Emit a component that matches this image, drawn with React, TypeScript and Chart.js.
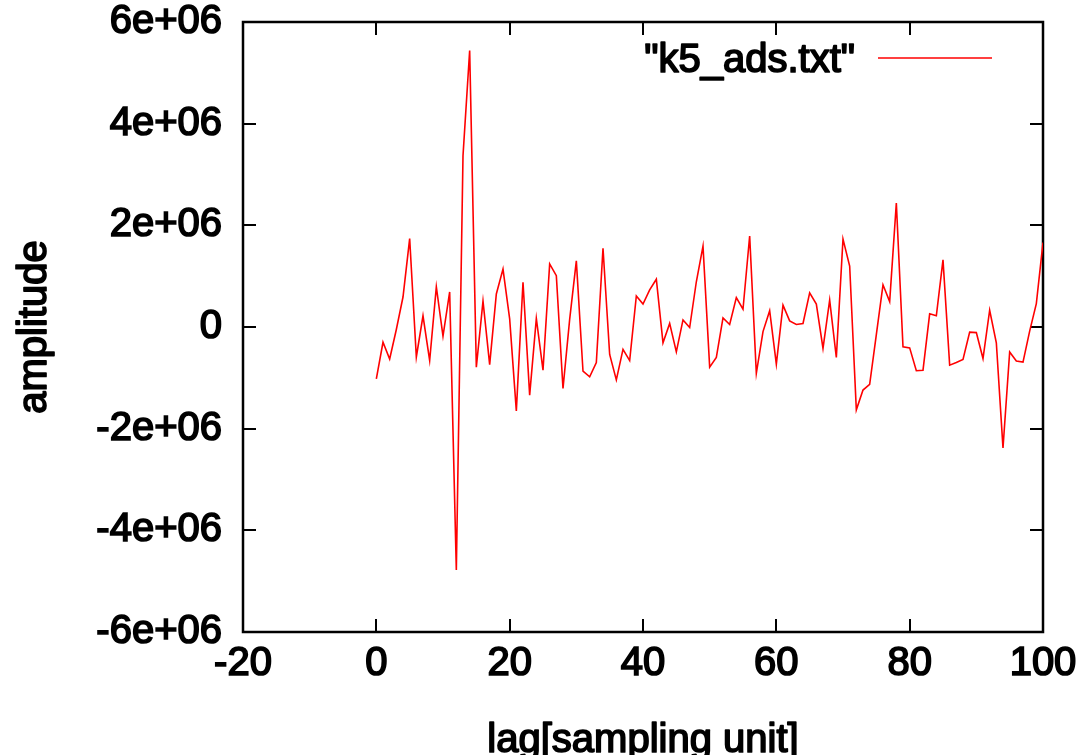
import React, { useEffect, useRef } from "react";
import { Chart, registerables } from "chart.js";

Chart.register(...registerables);

const lags = [
  0, 1, 2, 3, 4, 5, 6, 7, 8, 9, 10, 11, 12, 13, 14, 15, 16, 17, 18, 19, 20,
  21, 22, 23, 24, 25, 26, 27, 28, 29, 30, 31, 32, 33, 34, 35, 36, 37, 38, 39, 40,
  41, 42, 43, 44, 45, 46, 47, 48, 49, 50, 51, 52, 53, 54, 55, 56, 57, 58, 59, 60,
  61, 62, 63, 64, 65, 66, 67, 68, 69, 70, 71, 72, 73, 74, 75, 76, 77, 78, 79, 80,
  81, 82, 83, 84, 85, 86, 87, 88, 89, 90, 91, 92, 93, 94, 95, 96, 97, 98, 99, 100,
];

const amplitude = [
  -1.02e6, -0.3e6, -0.63e6, -0.05e6, 0.59e6, 1.74e6, -0.59e6, 0.22e6, -0.66e6, 0.79e6,
  -0.18e6, 0.69e6, -4.78e6, 3.37e6, 5.44e6, -0.79e6, 0.51e6, -0.74e6, 0.65e6, 1.14e6,
  0.16e6, -1.65e6, 0.88e6, -1.34e6, 0.17e6, -0.85e6, 1.24e6, 1.01e6, -1.21e6, 0.15e6,
  1.3e6, -0.87e6, -0.98e6, -0.7e6, 1.55e6, -0.54e6, -1.04e6, -0.44e6, -0.66e6, 0.61e6,
  0.45e6, 0.73e6, 0.94e6, -0.31e6, 0.07e6, -0.49e6, 0.14e6, -0.01e6, 0.89e6, 1.59e6,
  -0.79e6, -0.6e6, 0.18e6, 0.05e6, 0.58e6, 0.35e6, 1.79e6, -0.91e6, -0.09e6, 0.32e6,
  -0.73e6, 0.43e6, 0.12e6, 0.05e6, 0.07e6, 0.67e6, 0.45e6, -0.42e6, 0.53e6, -0.6e6,
  1.73e6, 1.2e6, -1.63e6, -1.24e6, -1.13e6, -0.15e6, 0.83e6, 0.5e6, 2.44e6, -0.39e6,
  -0.41e6, -0.86e6, -0.85e6, 0.26e6, 0.22e6, 1.32e6, -0.75e6, -0.7e6, -0.64e6, -0.1e6,
  -0.11e6, -0.62e6, 0.33e6, -0.31e6, -2.38e6, -0.49e6, -0.67e6, -0.69e6, -0.08e6, 0.46e6,
  1.66e6,
];

const xTicks = [-20, 0, 20, 40, 60, 80, 100];
const yTicks = [-6e6, -4e6, -2e6, 0, 2e6, 4e6, 6e6];

const seriesLabel = '"k5_ads.txt"';
const xTitle = "lag[sampling unit]";
const yTitle = "amplitude";

const FONT = "'Liberation Sans', Arial, Helvetica, sans-serif";
const TEXT_STROKE = 1.7;

function fmtY(v: number): string {
  if (v === 0) return "0";
  const m = v / 1e6;
  return `${m}e+06`;
}

function heavyText(ctx: any, text: string, x: number, y: number) {
  ctx.fillText(text, x, y);
  ctx.strokeText(text, x, y);
}

const framePlugin = {
  id: "gnuFrame",
  beforeDatasetsDraw(chart: any) {
    const { ctx, chartArea: a, scales } = chart;
    ctx.save();
    ctx.strokeStyle = "#000";
    ctx.lineWidth = 2;
    const L = 13;
    ctx.beginPath();
    scales.x.ticks.forEach((t: any) => {
      const px = Math.round(scales.x.getPixelForValue(t.value));
      ctx.moveTo(px, a.bottom);
      ctx.lineTo(px, a.bottom - L);
      ctx.moveTo(px, a.top);
      ctx.lineTo(px, a.top + L);
    });
    scales.y.ticks.forEach((t: any) => {
      const py = Math.round(scales.y.getPixelForValue(t.value));
      ctx.moveTo(a.left, py);
      ctx.lineTo(a.left + L, py);
      ctx.moveTo(a.right, py);
      ctx.lineTo(a.right - L, py);
    });
    ctx.stroke();
    ctx.lineWidth = 2.5;
    ctx.strokeRect(a.left, a.top, a.right - a.left, a.bottom - a.top);

    // axis titles
    ctx.font = `40px ${FONT}`;
    ctx.fillStyle = "#000";
    ctx.strokeStyle = "#000";
    ctx.lineWidth = TEXT_STROKE;
    ctx.lineJoin = "round";
    ctx.textAlign = "center";
    ctx.textBaseline = "alphabetic";
    const cx = (a.left + a.right) / 2;
    heavyText(ctx, xTitle, cx, a.bottom + 120);
    ctx.save();
    ctx.translate(46, (a.top + a.bottom) / 2);
    ctx.rotate(-Math.PI / 2);
    heavyText(ctx, yTitle, 0, 0);
    ctx.restore();
    ctx.restore();
  },
  afterDraw(chart: any) {
    const { ctx, chartArea: a } = chart;
    const ds = chart.data.datasets[0];
    ctx.save();
    ctx.font = `40px ${FONT}`;
    ctx.fillStyle = "#000";
    ctx.strokeStyle = "#000";
    ctx.lineWidth = TEXT_STROKE;
    ctx.lineJoin = "round";
    ctx.textAlign = "right";
    ctx.textBaseline = "middle";
    heavyText(ctx, ds.label, a.right - 188, a.top + 39);
    ctx.strokeStyle = ds.borderColor;
    ctx.lineWidth = 1.5;
    ctx.beginPath();
    ctx.moveTo(a.right - 165, a.top + 36);
    ctx.lineTo(a.right - 51, a.top + 36);
    ctx.stroke();
    ctx.restore();
  },
};

export default function App() {
  const ref = useRef<HTMLCanvasElement | null>(null);

  useEffect(() => {
    if (!ref.current) return;
    const points = lags.map((x, i) => ({ x, y: amplitude[i] }));
    const chart = new Chart(ref.current, {
      type: "line",
      data: {
        datasets: [
          {
            label: seriesLabel,
            data: points,
            borderColor: "#ff0000",
            backgroundColor: "#ff0000",
            borderWidth: 1.6,
            pointRadius: 0,
            tension: 0,
            fill: false,
          },
        ],
      },
      options: {
        animation: false,
        responsive: false,
        devicePixelRatio: 1,
        layout: { padding: { left: 0, right: 43, top: 22, bottom: 0 } },
        plugins: {
          legend: { display: false },
          tooltip: { enabled: false },
        },
        scales: {
          x: {
            type: "linear",
            min: -20,
            max: 100,
            afterBuildTicks: (s: any) => {
              s.ticks = xTicks.map((v) => ({ value: v }));
            },
            afterFit: (s: any) => {
              s.height = 123;
              s.paddingLeft = 0;
              s.paddingRight = 0;
            },
            grid: { display: false, drawTicks: false },
            border: { display: false },
            ticks: {
              autoSkip: false,
              maxRotation: 0,
              padding: 8,
              color: "#000",
              textStrokeColor: "#000",
              textStrokeWidth: TEXT_STROKE,
              font: { family: FONT, size: 40, lineHeight: 1.2 },
              callback: (v: any) => String(v),
            },
            title: { display: false },
          },
          y: {
            type: "linear",
            min: -6e6,
            max: 6e6,
            afterBuildTicks: (s: any) => {
              s.ticks = yTicks.map((v) => ({ value: v }));
            },
            afterFit: (s: any) => {
              s.width = 243;
              s.paddingTop = 0;
              s.paddingBottom = 0;
            },
            grid: { display: false, drawTicks: false },
            border: { display: false },
            ticks: {
              autoSkip: false,
              padding: 21,
              color: "#000",
              textStrokeColor: "#000",
              textStrokeWidth: TEXT_STROKE,
              font: { family: FONT, size: 40, lineHeight: 1 },
              callback: (v: any) => fmtY(Number(v)),
            },
            title: { display: false },
          },
        },
      },
      plugins: [framePlugin],
    });
    return () => chart.destroy();
  }, []);

  return (
    <div style={{ position: "fixed", left: 0, top: 0, width: 1086, height: 755, background: "#fff" }}>
      <canvas ref={ref} width={1086} height={755} style={{ display: "block", width: 1086, height: 755 }} />
    </div>
  );
}
